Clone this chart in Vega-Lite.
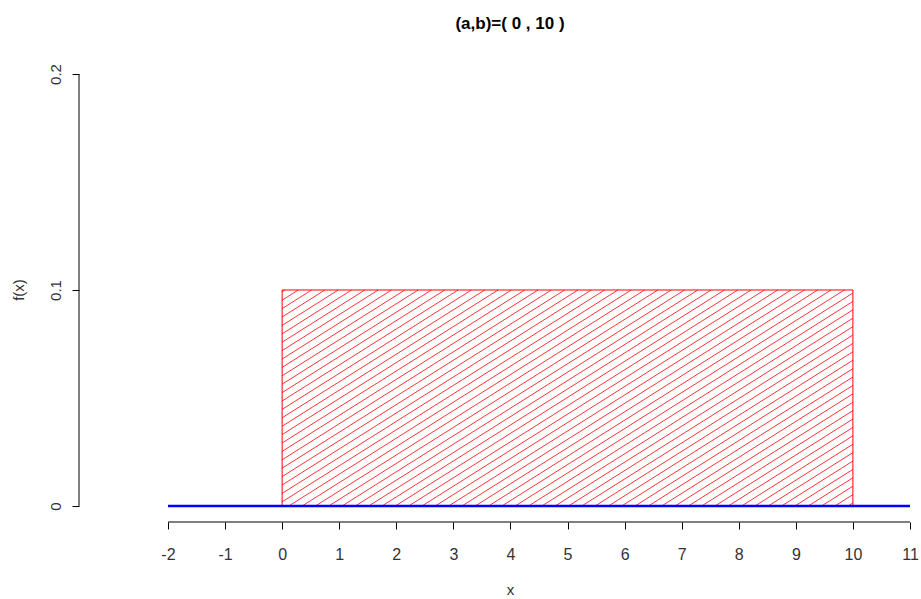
{
  "$schema": "https://vega.github.io/schema/vega-lite/v6.json",
  "width": 842,
  "height": 465,
  "autosize": {"type": "none"},
  "padding": {"left": 79, "top": 57, "right": 0, "bottom": 77},
  "background": "white",
  "config": {
    "view": {"stroke": null},
    "font": "Liberation Sans",
    "axis": {"grid": false, "labelFont": "Liberation Sans", "titleFont": "Liberation Sans"}
  },
  "title": {
    "text": "(a,b)=( 0 , 10 )",
    "font": "Liberation Sans",
    "fontSize": 17,
    "fontWeight": "bold",
    "color": "black",
    "anchor": "middle",
    "frame": "group",
    "baseline": "alphabetic",
    "offset": 11,
    "dx": 10
  },
  "datasets": {
    "hatch": [
      {"xa": 0, "ya": 0.09917, "xb": 0.05, "yb": 0.1},
      {"xa": 0, "ya": 0.09528, "xb": 0.2833, "yb": 0.1},
      {"xa": 0, "ya": 0.09139, "xb": 0.5167, "yb": 0.1},
      {"xa": 0, "ya": 0.0875, "xb": 0.75, "yb": 0.1},
      {"xa": 0, "ya": 0.08361, "xb": 0.9833, "yb": 0.1},
      {"xa": 0, "ya": 0.07972, "xb": 1.2167, "yb": 0.1},
      {"xa": 0, "ya": 0.07583, "xb": 1.45, "yb": 0.1},
      {"xa": 0, "ya": 0.07194, "xb": 1.6833, "yb": 0.1},
      {"xa": 0, "ya": 0.06806, "xb": 1.9167, "yb": 0.1},
      {"xa": 0, "ya": 0.06417, "xb": 2.15, "yb": 0.1},
      {"xa": 0, "ya": 0.06028, "xb": 2.3833, "yb": 0.1},
      {"xa": 0, "ya": 0.05639, "xb": 2.6167, "yb": 0.1},
      {"xa": 0, "ya": 0.0525, "xb": 2.85, "yb": 0.1},
      {"xa": 0, "ya": 0.04861, "xb": 3.0833, "yb": 0.1},
      {"xa": 0, "ya": 0.04472, "xb": 3.3167, "yb": 0.1},
      {"xa": 0, "ya": 0.04083, "xb": 3.55, "yb": 0.1},
      {"xa": 0, "ya": 0.03694, "xb": 3.7833, "yb": 0.1},
      {"xa": 0, "ya": 0.03306, "xb": 4.0167, "yb": 0.1},
      {"xa": 0, "ya": 0.02917, "xb": 4.25, "yb": 0.1},
      {"xa": 0, "ya": 0.02528, "xb": 4.4833, "yb": 0.1},
      {"xa": 0, "ya": 0.02139, "xb": 4.7167, "yb": 0.1},
      {"xa": 0, "ya": 0.0175, "xb": 4.95, "yb": 0.1},
      {"xa": 0, "ya": 0.01361, "xb": 5.1833, "yb": 0.1},
      {"xa": 0, "ya": 0.00972, "xb": 5.4167, "yb": 0.1},
      {"xa": 0, "ya": 0.00583, "xb": 5.65, "yb": 0.1},
      {"xa": 0, "ya": 0.00194, "xb": 5.8833, "yb": 0.1},
      {"xa": 0.1167, "ya": 0, "xb": 6.1167, "yb": 0.1},
      {"xa": 0.35, "ya": 0, "xb": 6.35, "yb": 0.1},
      {"xa": 0.5833, "ya": 0, "xb": 6.5833, "yb": 0.1},
      {"xa": 0.8167, "ya": 0, "xb": 6.8167, "yb": 0.1},
      {"xa": 1.05, "ya": 0, "xb": 7.05, "yb": 0.1},
      {"xa": 1.2833, "ya": 0, "xb": 7.2833, "yb": 0.1},
      {"xa": 1.5167, "ya": 0, "xb": 7.5167, "yb": 0.1},
      {"xa": 1.75, "ya": 0, "xb": 7.75, "yb": 0.1},
      {"xa": 1.9833, "ya": 0, "xb": 7.9833, "yb": 0.1},
      {"xa": 2.2167, "ya": 0, "xb": 8.2167, "yb": 0.1},
      {"xa": 2.45, "ya": 0, "xb": 8.45, "yb": 0.1},
      {"xa": 2.6833, "ya": 0, "xb": 8.6833, "yb": 0.1},
      {"xa": 2.9167, "ya": 0, "xb": 8.9167, "yb": 0.1},
      {"xa": 3.15, "ya": 0, "xb": 9.15, "yb": 0.1},
      {"xa": 3.3833, "ya": 0, "xb": 9.3833, "yb": 0.1},
      {"xa": 3.6167, "ya": 0, "xb": 9.6167, "yb": 0.1},
      {"xa": 3.85, "ya": 0, "xb": 9.85, "yb": 0.1},
      {"xa": 4.0833, "ya": 0, "xb": 10, "yb": 0.09861},
      {"xa": 4.3167, "ya": 0, "xb": 10, "yb": 0.09472},
      {"xa": 4.55, "ya": 0, "xb": 10, "yb": 0.09083},
      {"xa": 4.7833, "ya": 0, "xb": 10, "yb": 0.08694},
      {"xa": 5.0167, "ya": 0, "xb": 10, "yb": 0.08306},
      {"xa": 5.25, "ya": 0, "xb": 10, "yb": 0.07917},
      {"xa": 5.4833, "ya": 0, "xb": 10, "yb": 0.07528},
      {"xa": 5.7167, "ya": 0, "xb": 10, "yb": 0.07139},
      {"xa": 5.95, "ya": 0, "xb": 10, "yb": 0.0675},
      {"xa": 6.1833, "ya": 0, "xb": 10, "yb": 0.06361},
      {"xa": 6.4167, "ya": 0, "xb": 10, "yb": 0.05972},
      {"xa": 6.65, "ya": 0, "xb": 10, "yb": 0.05583},
      {"xa": 6.8833, "ya": 0, "xb": 10, "yb": 0.05194},
      {"xa": 7.1167, "ya": 0, "xb": 10, "yb": 0.04806},
      {"xa": 7.35, "ya": 0, "xb": 10, "yb": 0.04417},
      {"xa": 7.5833, "ya": 0, "xb": 10, "yb": 0.04028},
      {"xa": 7.8167, "ya": 0, "xb": 10, "yb": 0.03639},
      {"xa": 8.05, "ya": 0, "xb": 10, "yb": 0.0325},
      {"xa": 8.2833, "ya": 0, "xb": 10, "yb": 0.02861},
      {"xa": 8.5167, "ya": 0, "xb": 10, "yb": 0.02472},
      {"xa": 8.75, "ya": 0, "xb": 10, "yb": 0.02083},
      {"xa": 8.9833, "ya": 0, "xb": 10, "yb": 0.01694},
      {"xa": 9.2167, "ya": 0, "xb": 10, "yb": 0.01306},
      {"xa": 9.45, "ya": 0, "xb": 10, "yb": 0.00917},
      {"xa": 9.6833, "ya": 0, "xb": 10, "yb": 0.00528},
      {"xa": 9.9167, "ya": 0, "xb": 10, "yb": 0.00139}
    ],
    "density": [
      {"xa": 0, "xb": 10, "ya": 0, "yb": 0.1}
    ],
    "support": [
      {"xa": -2, "xb": 11, "ya": 0, "yb": 0}
    ],
    "xaxisline": [
      {"xa": -2, "xb": 11, "ya": -0.00741, "yb": -0.00741}
    ],
    "yaxisline": [
      {"xa": -3.559, "xb": -3.559, "ya": 0, "yb": 0.2}
    ]
  },
  "encoding": {
    "x": {
      "field": "xa", "type": "quantitative",
      "scale": {"domain": [-3.559, 11.193], "nice": false, "zero": false},
      "axis": {
        "values": [-2, -1, 0, 1, 2, 3, 4, 5, 6, 7, 8, 9, 10, 11],
        "labelExpr": "'' + datum.value",
        "domain": false,
        "tickSize": 7,
        "tickColor": "black",
        "tickWidth": 1,
        "labelFontSize": 16,
        "labelColor": "#333333",
        "labelBaseline": "alphabetic",
        "labelPadding": 30,
        "labelFlush": false,
        "labelOverlap": false,
        "title": "x",
        "titleFontSize": 15,
        "titleFontWeight": "normal",
        "titleColor": "#333333",
        "titleX": 431,
        "titleY": 72,
        "titleBaseline": "alphabetic"
      }
    },
    "x2": {"field": "xb"},
    "y": {
      "field": "ya", "type": "quantitative",
      "scale": {"domain": [-0.00741, 0.20787], "nice": false, "zero": false},
      "axis": {
        "values": [0, 0.1, 0.2],
        "labelExpr": "'' + datum.value",
        "domain": false,
        "tickSize": 7,
        "tickColor": "black",
        "tickWidth": 1,
        "labelFontSize": 15,
        "labelColor": "#333333",
        "labelAngle": -90,
        "labelAlign": "center",
        "labelBaseline": "alphabetic",
        "labelPadding": 12,
        "labelFlush": false,
        "labelOverlap": false,
        "title": "f(x)",
        "titleFontSize": 15,
        "titleFontWeight": "normal",
        "titleColor": "#333333",
        "titleAngle": -90,
        "titleAlign": "center",
        "titleBaseline": "middle",
        "titleX": -61,
        "titleY": 232.5
      }
    },
    "y2": {"field": "yb"}
  },
  "layer": [
    {
      "data": {"name": "hatch"},
      "mark": {"type": "rule", "color": "#ff0000", "strokeWidth": 1, "opacity": 0.8}
    },
    {
      "data": {"name": "density"},
      "mark": {"type": "rect", "fill": null, "fillOpacity": 0, "stroke": "#ff0000", "strokeWidth": 1}
    },
    {
      "data": {"name": "support"},
      "mark": {"type": "rule", "color": "#0000ff", "strokeWidth": 2.5}
    },
    {
      "data": {"name": "xaxisline"},
      "mark": {"type": "rule", "color": "black", "strokeWidth": 1}
    },
    {
      "data": {"name": "yaxisline"},
      "mark": {"type": "rule", "color": "black", "strokeWidth": 1}
    }
  ]
}
